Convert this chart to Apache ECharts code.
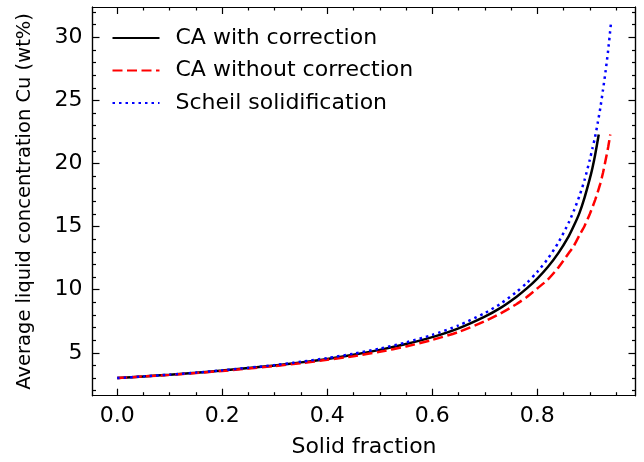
<!DOCTYPE html>
<html>
<head>
<meta charset="utf-8">
<script src="https://cdn.jsdelivr.net/npm/echarts@6/dist/echarts.min.js"></script>
<style>
html,body{margin:0;padding:0;background:#fff;}
#chart{width:644px;height:462px;}
</style>
</head>
<body>
<div id="chart"></div>
<script>
// ---- data ----
const caCorrFs  = [0, 0.05, 0.1, 0.15, 0.2, 0.25, 0.3, 0.35, 0.4, 0.45, 0.5, 0.55, 0.6, 0.65, 0.7, 0.73, 0.76, 0.78, 0.8, 0.82, 0.84, 0.86, 0.87, 0.88, 0.89, 0.9, 0.905, 0.91, 0.917];
const caCorrC   = [3.0, 3.13, 3.26, 3.42, 3.59, 3.79, 4.0, 4.24, 4.51, 4.84, 5.23, 5.69, 6.24, 6.94, 7.87, 8.56, 9.43, 10.1, 10.88, 11.8, 12.9, 14.25, 15.1, 16.05, 17.3, 18.8, 19.65, 20.65, 22.3];

const caNoCorrFs = [0, 0.05, 0.1, 0.15, 0.2, 0.25, 0.3, 0.35, 0.4, 0.45, 0.5, 0.55, 0.6, 0.65, 0.7, 0.73, 0.76, 0.78, 0.8, 0.82, 0.84, 0.86, 0.87, 0.88, 0.89, 0.9, 0.91, 0.92, 0.925, 0.93, 0.935, 0.939];
const caNoCorrC  = [3.0, 3.12, 3.25, 3.4, 3.56, 3.75, 3.95, 4.18, 4.44, 4.73, 5.08, 5.5, 6.02, 6.65, 7.5, 8.12, 8.85, 9.42, 10.1, 10.8, 11.75, 12.9, 13.5, 14.3, 15.05, 16.0, 17.1, 18.4, 19.25, 20.25, 21.3, 22.3];

const scheilFs = [0, 0.05, 0.1, 0.15, 0.2, 0.25, 0.3, 0.35, 0.4, 0.45, 0.5, 0.55, 0.6, 0.65, 0.7, 0.73, 0.76, 0.78, 0.8, 0.82, 0.84, 0.86, 0.87, 0.88, 0.89, 0.9, 0.905, 0.91, 0.915, 0.92, 0.925, 0.93, 0.935, 0.94];
const scheilC  = [3.0, 3.13, 3.27, 3.43, 3.61, 3.81, 4.03, 4.29, 4.58, 4.93, 5.33, 5.82, 6.42, 7.17, 8.15, 8.89, 9.81, 10.54, 11.41, 12.45, 13.73, 15.33, 16.3, 17.4, 18.7, 20.3, 21.2, 22.1, 23.2, 24.4, 25.8, 27.3, 29.0, 31.0];

const seriesNames = ['CA with correction', 'CA without correction', 'Scheil solidification'];

const xMajorTicks = [0, 0.2, 0.4, 0.6, 0.8];
const xMinorTicks = [0.05, 0.1, 0.15, 0.25, 0.3, 0.35, 0.45, 0.5, 0.55, 0.65, 0.7, 0.75, 0.85, 0.9, 0.95];
const yMajorTicks = [5, 10, 15, 20, 25, 30];
const yMinorTicks = [2, 3, 4, 6, 7, 8, 9, 11, 12, 13, 14, 16, 17, 18, 19, 21, 22, 23, 24, 26, 27, 28, 29, 31, 32];

const xLabel = 'Solid fraction';
const yLabel = 'Average liquid concentration Cu (wt%)';

// ---- chart ----
const FONT = 'DejaVu Sans';
const FS = 22;
const xMin = -0.047, xMax = 0.987;
const yMin = 1.6, yMax = 32.4;

function zip(a, b) { return a.map((v, i) => [v, b[i]]); }

function xAx(pos, ticks, len, labels, name) {
  return {
    type: 'value', position: pos, min: xMin, max: xMax,
    axisLine: { show: true, onZero: false, lineStyle: { color: '#000', width: 1.2 } },
    axisTick: { show: true, inside: true, length: len, customValues: ticks, lineStyle: { color: '#000', width: 1.2 } },
    axisLabel: labels ? { show: true, customValues: ticks, formatter: v => v.toFixed(1), color: '#000', fontFamily: FONT, fontSize: FS, margin: 10 } : { show: false },
    splitLine: { show: false },
    name: name || '', nameLocation: 'middle', nameGap: 41,
    nameTextStyle: { color: '#000', fontFamily: FONT, fontSize: FS }
  };
}
function yAx(pos, ticks, len, labels, name) {
  return {
    type: 'value', position: pos, min: yMin, max: yMax,
    axisLine: { show: true, onZero: false, lineStyle: { color: '#000', width: 1.2 } },
    axisTick: { show: true, inside: true, length: len, customValues: ticks, lineStyle: { color: '#000', width: 1.2 } },
    axisLabel: labels ? { show: true, customValues: ticks, formatter: v => String(v), color: '#000', fontFamily: FONT, fontSize: FS, margin: 10 } : { show: false },
    splitLine: { show: false },
    name: name || '', nameLocation: 'middle', nameGap: 57.5, nameRotate: 90,
    nameTextStyle: { color: '#000', fontFamily: FONT, fontSize: 19.5 }
  };
}

const chart = echarts.init(document.getElementById('chart'), null, { renderer: 'canvas' });
chart.setOption({
  animation: false,
  backgroundColor: '#fff',
  grid: { left: 92.5, right: 8.5, top: 7, bottom: 66.3, containLabel: false, outerBoundsMode: 'none' },
  legend: {
    orient: 'vertical', left: 111.5, top: 27, padding: 0,
    itemWidth: 47, itemHeight: 14, itemGap: 10.5,
    data: seriesNames,
    itemStyle: { opacity: 0 },
    textStyle: { color: '#000', fontFamily: FONT, fontSize: FS, padding: [0, 0, 0, 11] }
  },
  xAxis: [
    xAx('bottom', xMajorTicks, 7, true, xLabel),
    xAx('bottom', xMinorTicks, 3.5, false),
    xAx('top', xMajorTicks, 7, false),
    xAx('top', xMinorTicks, 3.5, false)
  ],
  yAxis: [
    yAx('left', yMajorTicks, 7, true, yLabel),
    yAx('left', yMinorTicks, 3.5, false),
    yAx('right', yMajorTicks, 7, false),
    yAx('right', yMinorTicks, 3.5, false)
  ],
  series: [
    { name: seriesNames[0], type: 'line', data: zip(caCorrFs, caCorrC), smooth: 0.25, symbol: 'none',
      xAxisIndex: 0, yAxisIndex: 0,
      lineStyle: { color: '#000000', width: 2.5, type: 'solid' }, itemStyle: { color: '#000000' } },
    { name: seriesNames[1], type: 'line', data: zip(caNoCorrFs, caNoCorrC), smooth: 0.25, symbol: 'none',
      xAxisIndex: 0, yAxisIndex: 0,
      lineStyle: { color: '#ff0000', width: 2.5, type: [10, 4.5] }, itemStyle: { color: '#ff0000' } },
    { name: seriesNames[2], type: 'line', data: zip(scheilFs, scheilC), smooth: 0.25, symbol: 'none',
      xAxisIndex: 0, yAxisIndex: 0,
      lineStyle: { color: '#0000ff', width: 2.5, type: [2.5, 4], cap: 'butt' }, itemStyle: { color: '#0000ff' } }
  ]
});
</script>
</body>
</html>
